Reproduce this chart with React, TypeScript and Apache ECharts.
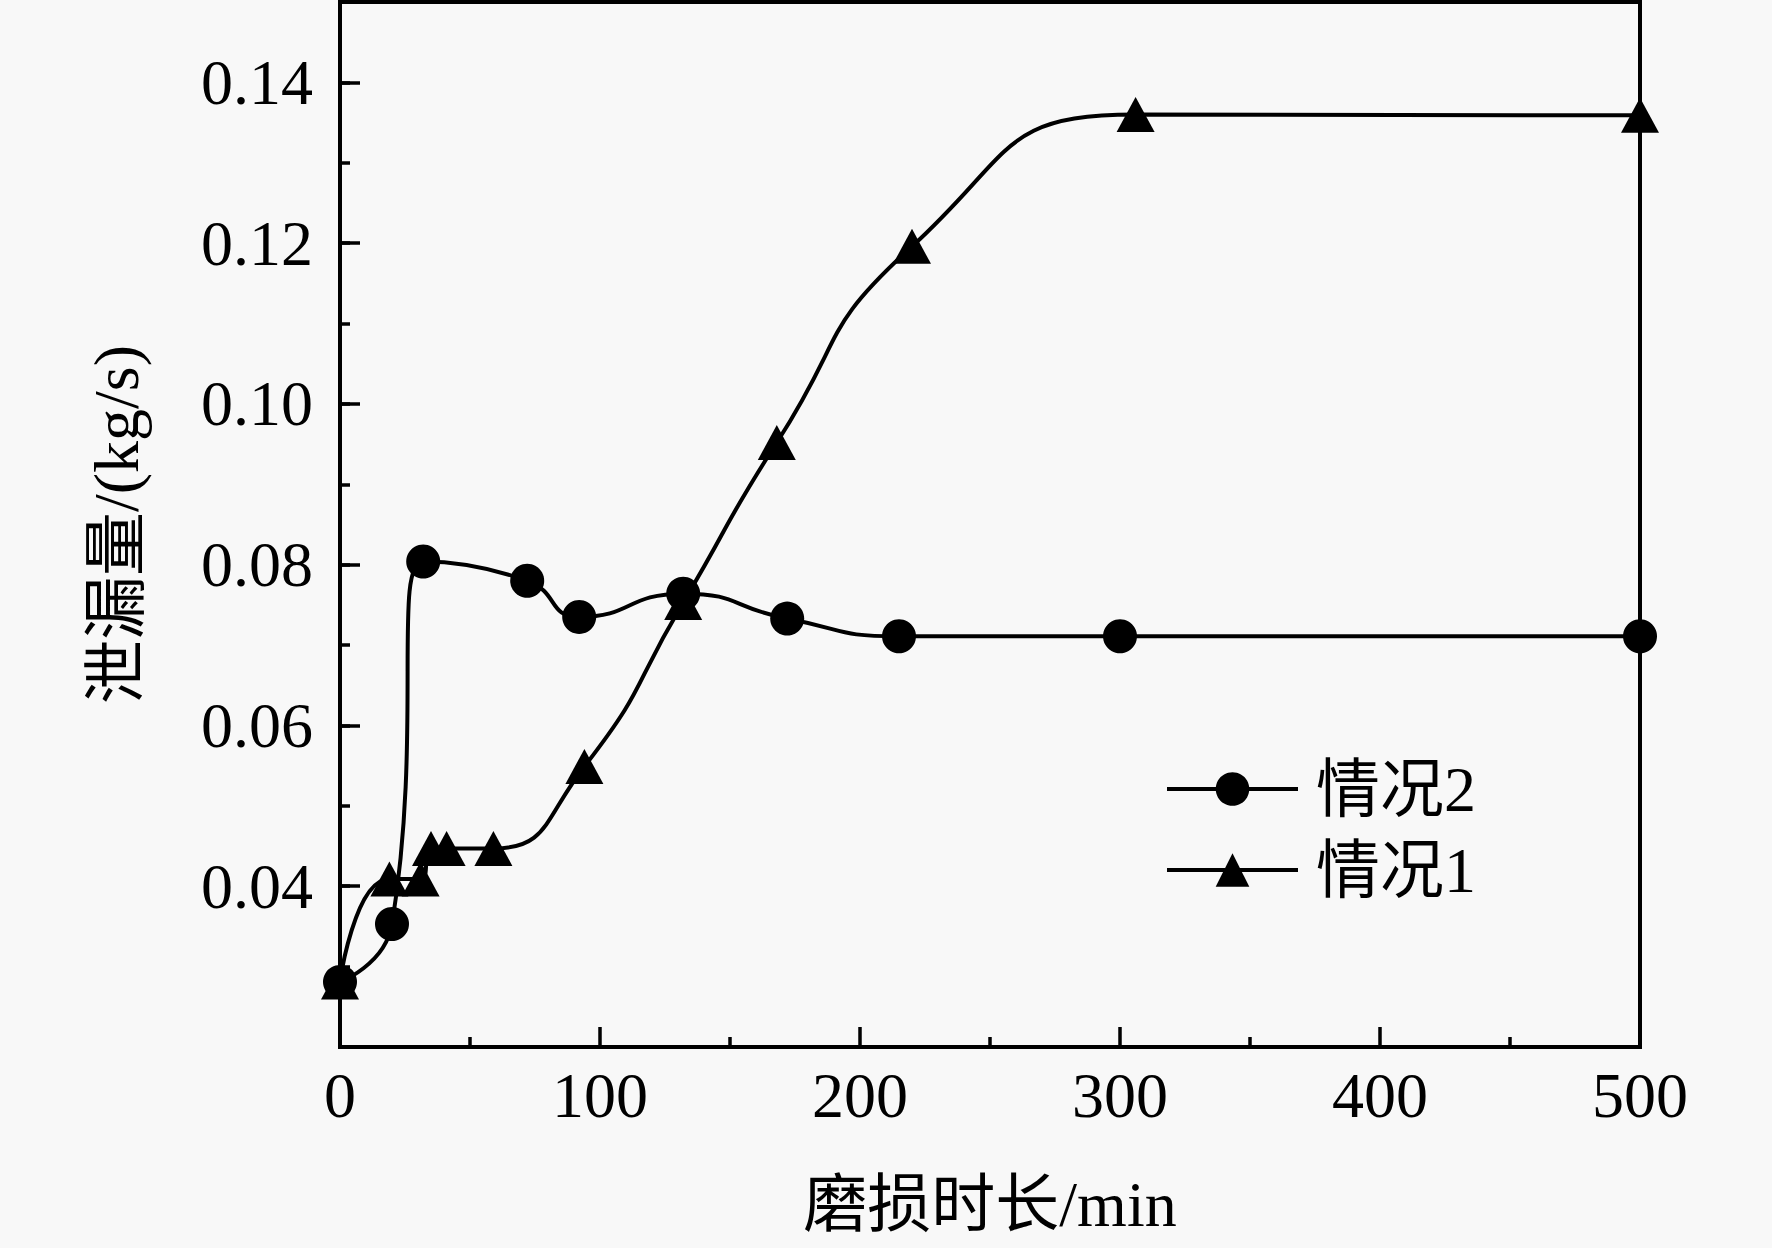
import React, { useEffect, useRef } from "react";
import * as echarts from "echarts";

const xTickLabels = ["0", "100", "200", "300", "400", "500"];
const yTickLabels = ["0.04", "0.06", "0.08", "0.10", "0.12", "0.14"];

const case2X = [0, 20, 32, 72, 92, 132, 172, 215, 300, 500];
const case2Y = [0.0281, 0.0353, 0.0804, 0.078, 0.0735, 0.0764, 0.0733, 0.0711, 0.0711, 0.0711];

const case1X = [0, 19, 31, 35, 41, 59, 94, 132, 168, 220, 306, 500];
const case1Y = [0.0281, 0.0409, 0.0409, 0.0447, 0.0447, 0.0447, 0.0549, 0.0753, 0.0952, 0.1196, 0.136, 0.1359];

const seriesNames = ["情况2", "情况1"];
const xTitle = "磨损时长/min";
const yTitle = "泄漏量/(kg/s)";

const FONT = "'Liberation Serif', 'Times New Roman', 'Noto Sans CJK SC', serif";

export default function App() {
  const ref = useRef<HTMLDivElement>(null);
  useEffect(() => {
    if (!ref.current) return;
    const chart = echarts.init(ref.current, undefined, { renderer: "svg" });
    const pair = (xs: number[], ys: number[]) => xs.map((x, i) => [x, ys[i]]);
    chart.setOption({
      animation: false,
      backgroundColor: "#f8f8f8",
      textStyle: { fontFamily: FONT, color: "#000" },
      grid: {
        left: 340,
        right: 132,
        top: 2,
        bottom: 201,
        show: true,
        borderColor: "#000",
        borderWidth: 4,
        backgroundColor: "transparent",
      },
      legend: {
        data: seriesNames,
        orient: "vertical",
        left: 1160,
        top: 752,
        itemWidth: 131,
        itemHeight: 42,
        itemGap: 17,
        lineStyle: { width: 4, color: "#000" },
        textStyle: {
          fontSize: 64,
          fontFamily: FONT,
          color: "#000",
          lineHeight: 64,
          padding: [0, 0, 0, 13],
        },
      },
      xAxis: {
        type: "value",
        min: 0,
        max: 500,
        interval: 100,
        name: xTitle,
        nameLocation: "middle",
        nameGap: 125,
        nameTextStyle: { fontSize: 64, fontFamily: FONT, color: "#000" },
        axisLine: { show: true, lineStyle: { color: "#000", width: 4 } },
        axisTick: { show: true, inside: true, length: 20, lineStyle: { color: "#000", width: 3.5 } },
        minorTick: { show: true, splitNumber: 2, length: 10, lineStyle: { color: "#000", width: 3.5 } },
        axisLabel: {
          fontSize: 64,
          fontFamily: FONT,
          color: "#000",
          margin: 16,
          formatter: (v: number) => {
            const s = String(Math.round(v));
            return xTickLabels.includes(s) ? s : "";
          },
        },
        splitLine: { show: false },
        minorSplitLine: { show: false },
      },
      yAxis: [
        {
          type: "value",
          min: 0.02,
          max: 0.15,
          interval: 0.02,
          name: yTitle,
          nameLocation: "middle",
          nameGap: 192,
          nameRotate: 90,
          nameTextStyle: { fontSize: 64, fontFamily: FONT, color: "#000" },
          axisLine: { show: true, lineStyle: { color: "#000", width: 4 } },
          axisTick: { show: true, inside: true, length: 20, lineStyle: { color: "#000", width: 3.5 } },
          axisLabel: {
            fontSize: 64,
            fontFamily: FONT,
            color: "#000",
            margin: 27,
            formatter: (v: number) => {
              const s = v.toFixed(2);
              return yTickLabels.includes(s) ? s : "";
            },
          },
          splitLine: { show: false },
        },
        {
          type: "value",
          position: "left",
          min: 0.02,
          max: 0.15,
          interval: 0.01,
          axisLine: { show: false },
          axisTick: { show: true, inside: true, length: 10, lineStyle: { color: "#000", width: 3.5 } },
          axisLabel: { show: false },
          splitLine: { show: false },
        },
      ],
      series: [
        {
          name: seriesNames[1],
          type: "line",
          smooth: 0.55,
          data: pair(case1X, case1Y),
          symbol: "triangle",
          symbolSize: [38, 35],
          lineStyle: { color: "#000", width: 4 },
          itemStyle: { color: "#000" },
        },
        {
          name: seriesNames[0],
          type: "line",
          smooth: 0.55,
          data: pair(case2X, case2Y),
          symbol: "circle",
          symbolSize: 34,
          lineStyle: { color: "#000", width: 4 },
          itemStyle: { color: "#000" },
        },
      ],
    });
    return () => chart.dispose();
  }, []);
  return (
    <div
      ref={ref}
      style={{ position: "absolute", left: 0, top: 0, width: 1772, height: 1248 }}
    />
  );
}
